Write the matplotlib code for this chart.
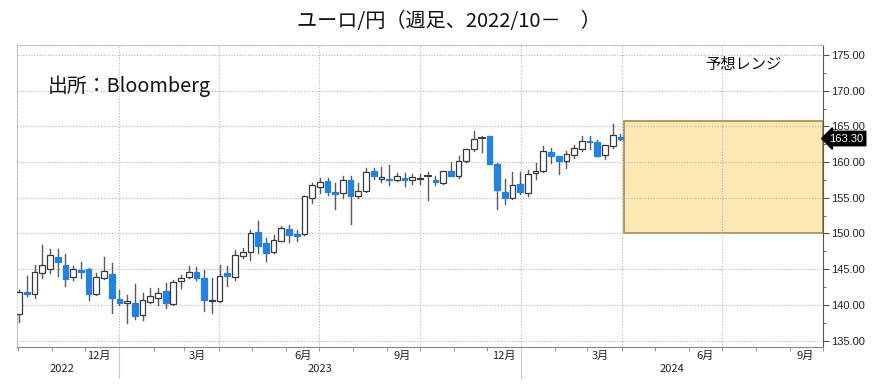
import matplotlib
matplotlib.use('Agg')
import matplotlib.pyplot as plt
import matplotlib.dates as mdates
import pandas as pd
from matplotlib.patches import Rectangle
from matplotlib.lines import Line2D
from matplotlib.ticker import MultipleLocator, FormatStrFormatter
from matplotlib.transforms import blended_transform_factory

plt.rcParams['font.family'] = ['Noto Sans CJK JP', 'DejaVu Sans']

# ---------------- data ----------------
start_date = '2022-10-02'
opens = [138.7, 141.8, 141.5, 144.4, 145.0, 146.7, 145.6, 143.9, 144.9, 145.0,
         141.5, 143.8, 144.3, 140.8, 140.3, 140.3, 138.6, 140.4, 140.9, 142.0,
         140.1, 143.4, 143.9, 144.6, 143.7, 140.6, 140.5, 144.5, 143.9, 146.9,
         147.4, 150.2, 148.6, 147.4, 149.0, 150.6, 149.9, 149.9, 155.0, 156.5,
         157.3, 155.8, 155.7, 157.5, 155.2, 155.9, 158.7, 157.6, 157.7, 157.5,
         157.8, 157.5, 157.7, 158.0, 157.5, 157.1, 158.7, 158.1, 160.2, 161.9,
         163.4, 163.6, 159.8, 155.8, 154.9, 157.0, 155.7, 158.5, 158.7, 161.4,
         160.8, 160.1, 161.0, 161.9, 162.9, 162.8, 161.0, 162.2, 163.5]
highs = [142.1, 144.1, 145.6, 148.4, 147.8, 147.8, 147.1, 145.4, 146.0, 145.1,
         144.4, 146.7, 145.8, 142.1, 141.4, 142.9, 141.7, 142.3, 142.3, 143.0,
         143.5, 144.2, 145.4, 145.3, 144.9, 143.7, 145.6, 145.5, 147.7, 147.9,
         150.5, 151.7, 149.3, 149.8, 151.0, 151.2, 150.5, 155.2, 157.1, 157.8,
         157.8, 157.1, 158.0, 158.1, 157.1, 159.2, 159.2, 159.3, 159.6, 158.5,
         158.5, 158.4, 158.4, 158.6, 158.1, 158.8, 160.0, 160.9, 161.9, 164.3,
         163.6, 163.7, 159.9, 157.7, 158.6, 158.6, 158.9, 159.9, 162.2, 162.0,
         160.9, 161.5, 162.4, 163.6, 163.7, 163.1, 162.4, 165.4, 164.0]
lows = [137.6, 141.3, 141.0, 143.7, 144.5, 144.1, 142.6, 143.5, 143.7, 140.7,
        141.4, 143.6, 138.8, 140.0, 137.4, 138.0, 137.9, 140.2, 140.0, 139.6,
        140.0, 142.3, 143.8, 143.5, 139.2, 138.8, 140.4, 142.6, 143.5, 146.5,
        146.3, 147.2, 146.2, 147.3, 148.9, 148.8, 148.9, 149.8, 154.2, 155.7,
        155.4, 153.4, 155.0, 151.3, 155.0, 155.8, 157.7, 157.2, 156.8, 157.3,
        156.6, 156.9, 157.0, 154.7, 156.8, 157.0, 158.0, 157.8, 160.0, 161.6,
        161.4, 159.8, 153.4, 154.1, 154.8, 155.6, 155.3, 157.6, 158.6, 159.9,
        158.3, 159.2, 160.6, 161.5, 161.8, 160.9, 160.4, 162.0, 163.1]
closes = [141.8, 141.5, 144.6, 145.6, 147.0, 146.0, 143.6, 145.0, 144.6, 141.5,
          143.9, 144.8, 141.0, 140.3, 140.6, 138.5, 140.7, 141.2, 141.6, 140.3,
          143.2, 143.8, 144.6, 143.7, 140.7, 140.7, 144.1, 144.1, 147.0, 147.4,
          150.1, 148.3, 147.2, 149.1, 150.8, 149.8, 149.7, 155.2, 156.8, 157.2,
          155.8, 155.6, 157.5, 155.3, 155.9, 158.6, 158.0, 157.9, 157.5, 158.1,
          157.5, 157.9, 157.8, 158.0, 157.2, 158.75, 158.1, 160.2, 161.9, 163.2,
          163.4, 159.8, 156.1, 154.9, 156.8, 155.8, 158.3, 158.7, 161.5, 160.9,
          160.1, 161.2, 162.0, 162.9, 162.8, 160.9, 162.4, 163.8, 163.3]
last_price = 163.30
range_start = '2024-04-03'
range_low = 150.0
range_high = 165.8
y_ticks = [135, 140, 145, 150, 155, 160, 165, 170, 175]
month_labels = ['12月', '3月', '6月', '9月', '12月', '3月', '6月', '9月']
month_label_dates = ['2022-12-13', '2023-03-13', '2023-06-17', '2023-09-15',
                     '2023-12-16', '2024-03-13', '2024-06-16', '2024-09-15']
year_labels = ['2022', '2023', '2024']
year_label_dates = ['2022-11-10', '2023-07-02', '2024-05-17']
year_sep_dates = ['2023-01-01', '2024-01-01']
grid_dates = ['2023-01-01', '2023-04-01', '2023-07-01', '2023-10-01',
              '2024-01-01', '2024-04-01', '2024-07-01']

dates = pd.date_range(start_date, periods=len(opens), freq='7D')

# ---------------- figure ----------------
W, H = 877, 387
fig = plt.figure(figsize=(W / 100, H / 100), dpi=100)
ax_l, ax_r, ax_t, ax_b = 17, 823, 45, 347
ax = fig.add_axes([ax_l / W, 1 - ax_b / H, (ax_r - ax_l) / W, (ax_b - ax_t) / H])

xmin = mdates.date2num(pd.Timestamp('2022-09-30'))
xmax = mdates.date2num(pd.Timestamp('2024-10-01'))
ax.set_xlim(xmin, xmax)
ax.set_ylim(134.1, 176.4)

blue = '#1E82E6'
edge_dark = '#3a3a3a'
wick_col = '#5a5a5a'
bw = 5.2
xs = mdates.date2num(dates)
for xi, o, h, l, c in zip(xs, opens, highs, lows, closes):
    ax.add_line(Line2D([xi, xi], [l, h], color=wick_col, lw=1.0, zorder=3))
    if c > o:
        ax.add_patch(Rectangle((xi - bw / 2, o), bw, c - o, facecolor='white',
                               edgecolor=edge_dark, lw=0.9, zorder=4))
    elif c < o:
        ax.add_patch(Rectangle((xi - bw / 2, c), bw, o - c, facecolor=blue,
                               edgecolor=blue, lw=0.9, zorder=4))
    else:
        ax.add_line(Line2D([xi - bw / 2, xi + bw / 2], [o, o], color=edge_dark,
                           lw=1.4, zorder=4))

# forecast range box
rx = mdates.date2num(pd.Timestamp(range_start))
ax.add_patch(Rectangle((rx, range_low), xmax - rx, range_high - range_low,
                       facecolor='#FDE8B4', edgecolor='#A38A45', lw=1.2,
                       zorder=0.3, clip_on=False))

# grid
grid_kw = dict(color='#b5b5b5', lw=0.8, ls=(0, (1, 1.5)), zorder=0.5)
for v in y_ticks:
    ax.axhline(v, **grid_kw)
for d in grid_dates:
    ax.axvline(mdates.date2num(pd.Timestamp(d)), **grid_kw)

# spines
for s in ['left', 'top']:
    ax.spines[s].set_color('#b5b5b5')
    ax.spines[s].set_linestyle((0, (1, 1.5)))
    ax.spines[s].set_linewidth(0.8)
ax.spines['right'].set_color('#555555')
ax.spines['bottom'].set_color('#888888')

# y axis on right
ax.yaxis.tick_right()
ax.set_yticks(y_ticks)
ax.yaxis.set_major_formatter(FormatStrFormatter('%.2f'))
ax.yaxis.set_minor_locator(MultipleLocator(2.5))
ax.tick_params(axis='y', which='major', direction='out', length=4, width=0.8,
               color='#555555', labelsize=8, pad=2)
ax.tick_params(axis='y', which='minor', direction='out', length=2, width=0.6,
               color='#555555')
for t in ax.get_yticklabels():
    t.set_fontfamily(['Liberation Sans', 'DejaVu Sans'])
    t.set_color('#222222')

# x axis: month ticks, custom labels
ax.xaxis.set_minor_locator(mdates.MonthLocator())
ax.set_xticks([])
ax.tick_params(axis='x', which='minor', direction='out', length=3, width=0.6,
               color='#888888')
trans = blended_transform_factory(ax.transData, ax.transAxes)
for lab, d in zip(month_labels, month_label_dates):
    ax.text(mdates.date2num(pd.Timestamp(d)), -(356 - ax_b) / (ax_b - ax_t), lab,
            transform=trans, ha='center', va='center', fontsize=8, color='#222222')
for lab, d in zip(year_labels, year_label_dates):
    ax.text(mdates.date2num(pd.Timestamp(d)), -(369 - ax_b) / (ax_b - ax_t), lab,
            transform=trans, ha='center', va='center', fontsize=8, color='#222222')
for d in year_sep_dates:
    xd = mdates.date2num(pd.Timestamp(d))
    ax.add_line(Line2D([xd, xd], [0, -(378 - ax_b) / (ax_b - ax_t)], transform=trans,
                       color='#c8c8c8', lw=0.8, clip_on=False))

# last price tag
ax.text(1.008, last_price, f'{last_price:.2f}',
        transform=blended_transform_factory(ax.transAxes, ax.transData),
        ha='left', va='center', fontsize=8, color='white',
        family=['Liberation Sans', 'DejaVu Sans'],
        bbox=dict(boxstyle='larrow,pad=0.2', fc='black', ec='black'), zorder=10,
        clip_on=False)

# texts
fig.text(449 / W, 1 - 22 / H, 'ユーロ/円（週足、2022/10－　）', ha='center', va='center',
         fontsize=14.5, color='#111111')
fig.text(48 / W, 1 - 86 / H, '出所：Bloomberg', ha='left', va='center',
         fontsize=14.3, color='#111111')
fig.text(743 / W, 1 - 65 / H, '予想レンジ', ha='center', va='center',
         fontsize=11, color='#111111')

fig.savefig('out.png', dpi=100)
